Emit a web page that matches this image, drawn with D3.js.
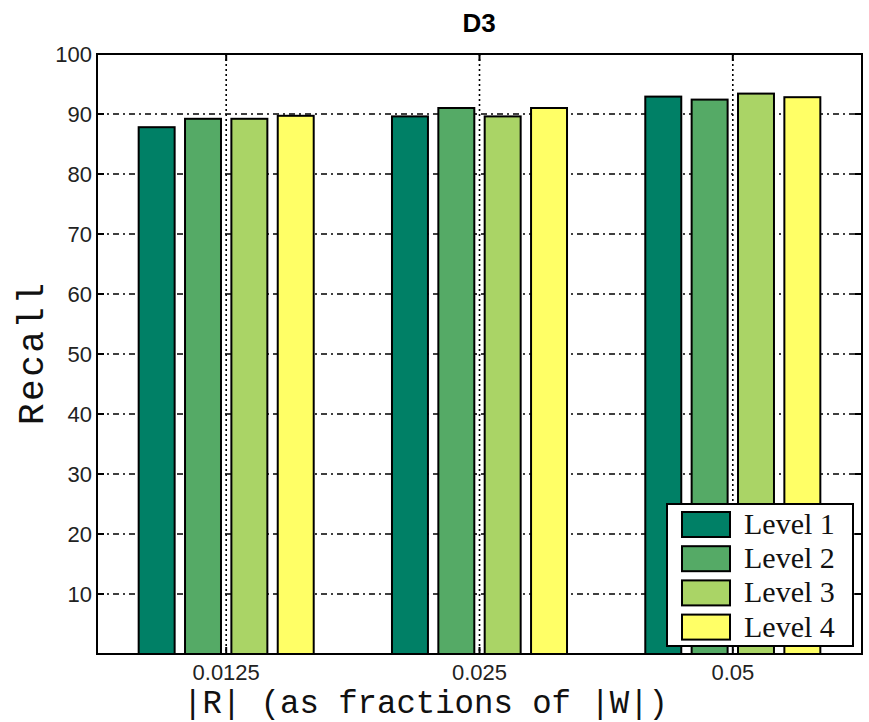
<!DOCTYPE html>
<html>
<head>
<meta charset="utf-8">
<script src="https://cdn.jsdelivr.net/npm/d3@7"></script>
<style>
  body { margin: 0; background: #fff; }
</style>
</head>
<body>
<svg id="chart" width="869" height="722"></svg>
<script>
// data
const categories = ["0.0125", "0.025", "0.05"];
const levels = ["Level 1", "Level 2", "Level 3", "Level 4"];
const level1 = [87.8, 89.6, 92.9];
const level2 = [89.2, 91.0, 92.4];
const level3 = [89.2, 89.6, 93.4];
const level4 = [89.7, 91.0, 92.8];
const yTicks = [10, 20, 30, 40, 50, 60, 70, 80, 90, 100];

const series = [level1, level2, level3, level4];
const colors = ["#008066", "#55aa66", "#aad466", "#ffff66"];

const svg = d3.select("#chart");
const pL = 97, pR = 862, pT = 54, pB = 654;

//x: group index 1..3, y: recall
const x = d3.scaleLinear().domain([0.49, 3.51]).range([pL, pR]);
const y = d3.scaleLinear().domain([0, 100]).range([pB, pT]);

const pitch = 0.183, barW = 0.142;
const dash = "6,4,2,4";

//horizontal grid behind bars
svg.append("g").selectAll("line")
    .data(yTicks.filter(t => t < 100))
    .enter().append("line")
    .attr("x1", pL).attr("x2", pR)
    .attr("y1", d => y(d)).attr("y2", d => y(d))
    .attr("stroke", "#000").attr("stroke-width", 1.6)
    .attr("stroke-dasharray", dash);

//vertical grid
svg.append("g").selectAll("line")
    .data(categories)
    .enter().append("line")
    .attr("x1", (d, i) => x(i + 1)).attr("x2", (d, i) => x(i + 1))
    .attr("y1", pT).attr("y2", pB)
    .attr("stroke", "#000").attr("stroke-width", 1.6)
    .attr("stroke-dasharray", "2,3");

//bars
series.forEach((vals, s) => {
    svg.append("g").selectAll("rect")
        .data(vals)
        .enter().append("rect")
        .attr("x", (d, i) => x(i + 1 + (s - 1.5) * pitch - barW / 2))
        .attr("width", x(barW) - x(0))
        .attr("y", d => y(d))
        .attr("height", d => y(0) - y(d))
        .attr("fill", colors[s])
        .attr("stroke", "#000").attr("stroke-width", 2);
});

//frame
svg.append("rect")
    .attr("x", pL).attr("y", pT)
    .attr("width", pR - pL).attr("height", pB - pT)
    .attr("fill", "none").attr("stroke", "#000").attr("stroke-width", 2);

//ticks (inner, on all sides)
const tk = 7;
svg.append("g").selectAll("path")
    .data(yTicks)
    .enter().append("path")
    .attr("d", d => `M${pL},${y(d)}h${tk}M${pR},${y(d)}h${-tk}`)
    .attr("stroke", "#000").attr("stroke-width", 2);
svg.append("g").selectAll("path")
    .data(categories)
    .enter().append("path")
    .attr("d", (d, i) => `M${x(i + 1)},${pT}v${tk}M${x(i + 1)},${pB}v${-tk}`)
    .attr("stroke", "#000").attr("stroke-width", 2);

//tick labels
svg.append("g").selectAll("text")
    .data(yTicks)
    .enter().append("text")
    .attr("x", pL - 5).attr("y", d => y(d) + 8)
    .attr("text-anchor", "end")
    .attr("font-family", "Liberation Sans, Arial, sans-serif")
    .attr("font-size", 22).attr("fill", "#222")
    .text(d => d);

svg.append("g").selectAll("text")
    .data(categories)
    .enter().append("text")
    .attr("x", (d, i) => x(i + 1)).attr("y", 680)
    .attr("text-anchor", "middle")
    .attr("font-family", "Liberation Sans, Arial, sans-serif")
    .attr("font-size", 22).attr("fill", "#222")
    .text(d => d);

//title and axis labels
svg.append("text")
    .attr("x", 479).attr("y", 32)
    .attr("text-anchor", "middle")
    .attr("font-family", "Liberation Sans, Arial, sans-serif")
    .attr("font-weight", "bold").attr("font-size", 26)
    .text("D3");

svg.append("text")
    .attr("transform", "translate(43,354) rotate(-90)")
    .attr("text-anchor", "middle")
    .attr("font-family", "Liberation Mono, Courier New, monospace")
    .attr("font-size", 36).attr("fill", "#111")
    .attr("textLength", 142).attr("lengthAdjust", "spacing")
    .text("Recall");

svg.append("text")
    .attr("x", 183).attr("y", 713)
    .attr("font-family", "Liberation Mono, Courier New, monospace")
    .attr("font-size", 34).attr("fill", "#111")
    .attr("textLength", 485).attr("lengthAdjust", "spacingAndGlyphs")
    .text("|R| (as fractions of |W|)");

//legend
const lg = svg.append("g");
lg.append("rect")
    .attr("x", 667).attr("y", 504).attr("width", 186).attr("height", 142)
    .attr("fill", "#fff").attr("stroke", "#000").attr("stroke-width", 2);
levels.forEach((name, s) => {
    const ry = 512 + s * 34.2;
    lg.append("rect")
        .attr("x", 682).attr("y", ry).attr("width", 48).attr("height", 25)
        .attr("fill", colors[s]).attr("stroke", "#000").attr("stroke-width", 2);
    lg.append("text")
        .attr("x", 744).attr("y", ry + 22)
        .attr("font-family", "Liberation Serif, Times New Roman, serif")
        .attr("font-size", 30).attr("fill", "#111")
        .text(name);
});
</script>
</body>
</html>
